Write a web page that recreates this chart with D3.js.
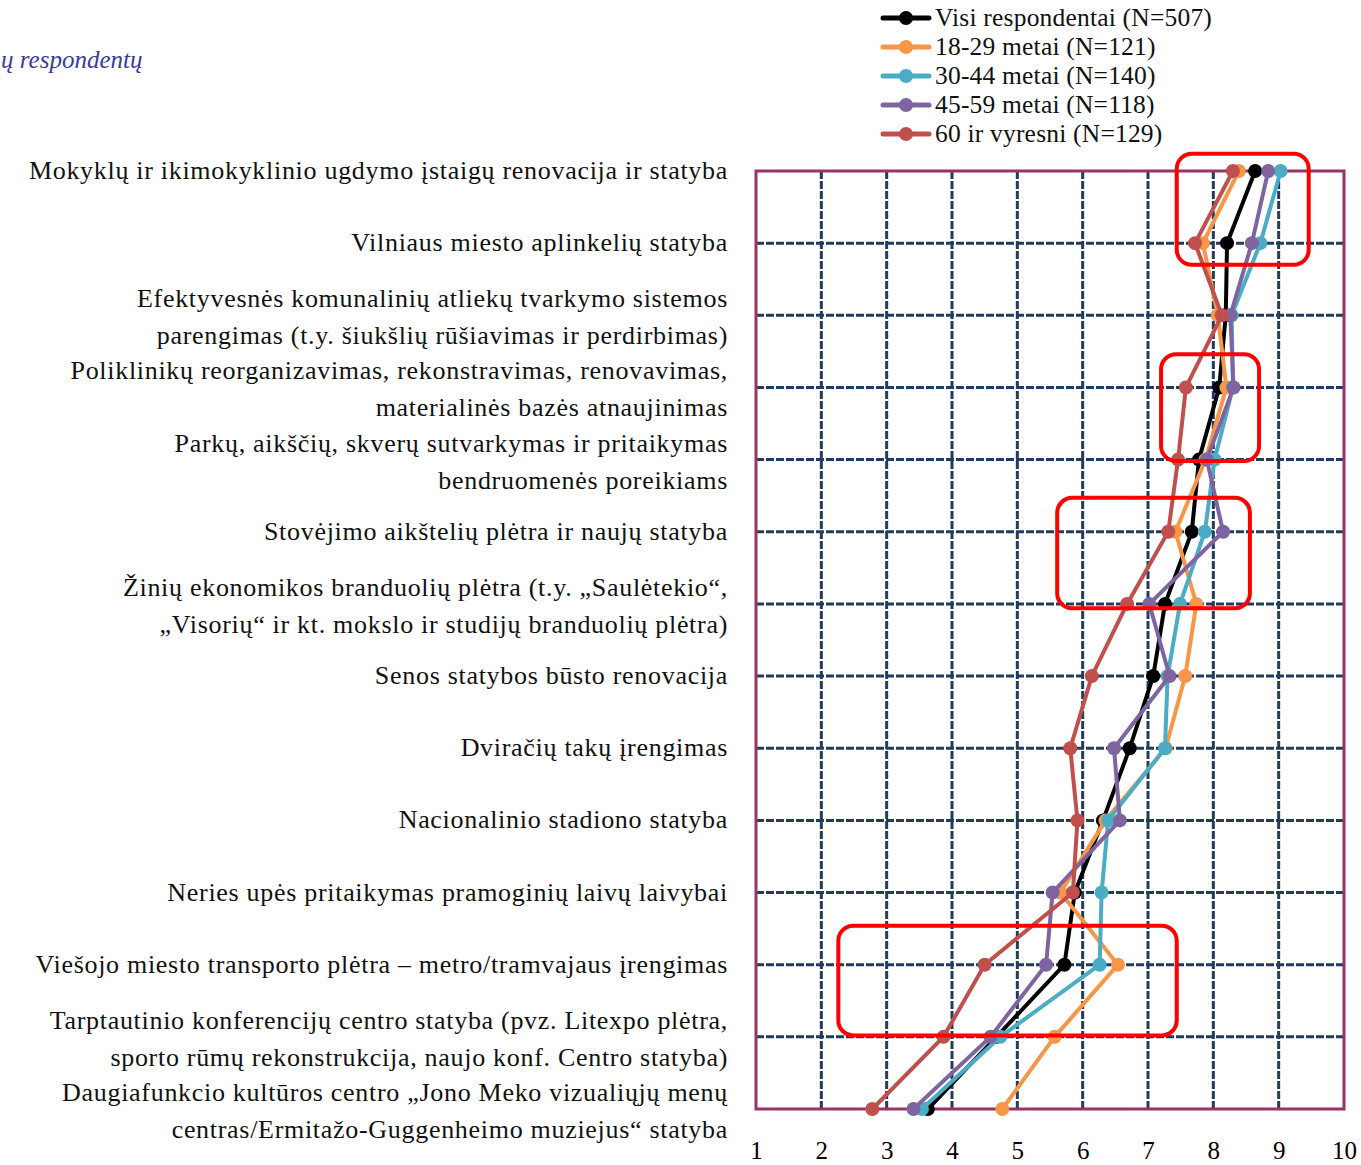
<!DOCTYPE html>
<html>
<head>
<meta charset="utf-8">
<script src="https://cdn.jsdelivr.net/npm/d3@7"></script>
<style>
  html, body { margin: 0; padding: 0; background: #fff; }
  svg { display: block; }
  text { font-family: "Liberation Serif", "DejaVu Serif", serif; }
</style>
</head>
<body>
<script>
// ---------- DATA ----------
const categories = [
  ["Mokyklų ir ikimokyklinio ugdymo įstaigų renovacija ir statyba"],
  ["Vilniaus miesto aplinkelių statyba"],
  ["Efektyvesnės komunalinių atliekų tvarkymo sistemos", "parengimas (t.y. šiukšlių rūšiavimas ir perdirbimas)"],
  ["Poliklinikų reorganizavimas, rekonstravimas, renovavimas,", "materialinės bazės atnaujinimas"],
  ["Parkų, aikščių, skverų sutvarkymas ir pritaikymas", "bendruomenės poreikiams"],
  ["Stovėjimo aikštelių plėtra ir naujų statyba"],
  ["Žinių ekonomikos branduolių plėtra (t.y. „Saulėtekio“,", "„Visorių“ ir kt. mokslo ir studijų branduolių plėtra)"],
  ["Senos statybos būsto renovacija"],
  ["Dviračių takų įrengimas"],
  ["Nacionalinio stadiono statyba"],
  ["Neries upės pritaikymas pramoginių laivų laivybai"],
  ["Viešojo miesto transporto plėtra – metro/tramvajaus įrengimas"],
  ["Tarptautinio konferencijų centro statyba (pvz. Litexpo plėtra,", "sporto rūmų rekonstrukcija, naujo konf. Centro statyba)"],
  ["Daugiafunkcio kultūros centro „Jono Meko vizualiųjų menų", "centras/Ermitažo-Guggenheimo muziejus“ statyba"]
];

const seriesNames = [
  "Visi respondentai (N=507)",
  "18-29 metai (N=121)",
  "30-44 metai (N=140)",
  "45-59 metai (N=118)",
  "60 ir vyresni (N=129)"
];
const seriesColors = ["#000000", "#F79646", "#4BACC6", "#8064A2", "#C0504D"];

const visi    = [8.64, 8.21, 8.19, 8.09, 7.78, 7.67, 7.26, 7.08, 6.72, 6.31, 5.88, 5.72, 4.68, 3.63];
const age1829 = [8.39, 7.84, 8.07, 8.20, 7.88, 7.42, 7.74, 7.57, 7.27, 6.35, 5.66, 6.54, 5.57, 4.77];
const age3044 = [9.03, 8.72, 8.28, 8.30, 8.02, 7.87, 7.49, 7.30, 7.26, 6.39, 6.29, 6.26, 4.74, 3.54];
const age4559 = [8.84, 8.59, 8.26, 8.31, 7.90, 8.15, 7.02, 7.33, 6.48, 6.57, 5.54, 5.44, 4.59, 3.41];
const age60   = [8.30, 7.72, 8.13, 7.58, 7.46, 7.31, 6.68, 6.14, 5.81, 5.92, 5.85, 4.50, 3.87, 2.78];
const seriesValues = [visi, age1829, age3044, age4559, age60];

const xTicks = [1, 2, 3, 4, 5, 6, 7, 8, 9, 10];

// highlight boxes: [xMin, xMax, rowFrom, rowTo] in data units
const highlights = [
  [7.44, 9.46, -0.24, 1.30],
  [7.20, 8.70, 2.54, 4.02],
  [5.61, 8.56, 4.53, 6.06],
  [2.26, 7.44, 10.46, 11.98]
];

// ---------- CHART ----------
const W = 1361, H = 1165;
const plot = { left: 756, right: 1344, top: 171, bottom: 1109 };

const svg = d3.select("body").append("svg").attr("width", W).attr("height", H);

const x = d3.scaleLinear().domain([1, 10]).range([plot.left, plot.right]);
const y = d3.scaleLinear().domain([0, categories.length - 1]).range([plot.top, plot.bottom]);

// partial title
svg.append("text")
  .attr("x", 1).attr("y", 68)
  .attr("text-anchor", "start")
  .attr("fill", "#3B3B9E")
  .attr("font-style", "italic")
  .attr("font-size", 25)
  .text("ų respondentų");

// grid
const grid = svg.append("g");
grid.selectAll("line.v").data(xTicks.slice(1, -1)).enter().append("line")
  .attr("x1", d => x(d)).attr("x2", d => x(d))
  .attr("y1", plot.top).attr("y2", plot.bottom)
  .attr("stroke", "#233C5E").attr("stroke-width", 3)
  .attr("stroke-dasharray", "8,2");
grid.selectAll("line.h").data(d3.range(1, categories.length - 1)).enter().append("line")
  .attr("x1", plot.left).attr("x2", plot.right)
  .attr("y1", d => y(d)).attr("y2", d => y(d))
  .attr("stroke", "#233C5E").attr("stroke-width", 3)
  .attr("stroke-dasharray", "8,2");

// border
svg.append("rect")
  .attr("x", plot.left).attr("y", plot.top)
  .attr("width", plot.right - plot.left).attr("height", plot.bottom - plot.top)
  .attr("fill", "none").attr("stroke", "#993366").attr("stroke-width", 3);

// x axis labels
const xAxis = d3.axisBottom(x).tickValues(xTicks).tickSize(0).tickPadding(0).tickFormat(d3.format("d"));
const xg = svg.append("g").attr("transform", `translate(0, ${plot.bottom + 45})`).call(xAxis);
xg.select(".domain").remove();
xg.selectAll("text")
  .attr("font-family", "'Liberation Serif', serif")
  .attr("font-size", 25).attr("fill", "#000").attr("dy", "0.2em");

// category labels
const lab = svg.append("g");
categories.forEach((lines, i) => {
  const t = lab.append("text")
    .attr("x", 728)
    .attr("text-anchor", "end")
    .attr("font-size", 26)
    .attr("letter-spacing", 0.7)
    .attr("fill", "#111");
  if (lines.length === 1) {
    t.append("tspan").attr("x", 728).attr("y", y(i) + 8).text(lines[0]);
  } else {
    t.append("tspan").attr("x", 728).attr("y", y(i) - 8).text(lines[0]);
    t.append("tspan").attr("x", 728).attr("y", y(i) + 29).text(lines[1]);
  }
});

// series
const line = d3.line().x(d => x(d[0])).y(d => y(d[1]));
seriesValues.forEach((vals, s) => {
  const pts = vals.map((v, i) => [v, i]);
  const g = svg.append("g");
  g.append("path").datum(pts)
    .attr("d", line)
    .attr("fill", "none")
    .attr("stroke", seriesColors[s])
    .attr("stroke-width", 4)
    .attr("stroke-linejoin", "round");
  g.selectAll("circle").data(pts).enter().append("circle")
    .attr("cx", d => x(d[0])).attr("cy", d => y(d[1]))
    .attr("r", 7)
    .attr("fill", seriesColors[s]);
});

// highlight rounded rectangles
svg.append("g").selectAll("rect").data(highlights).enter().append("rect")
  .attr("x", d => x(d[0])).attr("y", d => y(d[2]))
  .attr("width", d => x(d[1]) - x(d[0]))
  .attr("height", d => y(d[3]) - y(d[2]))
  .attr("rx", 15).attr("ry", 15)
  .attr("fill", "none").attr("stroke", "#FF0000").attr("stroke-width", 4);

// legend
const leg = svg.append("g");
seriesNames.forEach((name, s) => {
  const ly = 18 + s * 29;
  leg.append("line")
    .attr("x1", 883).attr("x2", 929).attr("y1", ly).attr("y2", ly)
    .attr("stroke", seriesColors[s]).attr("stroke-width", 5).attr("stroke-linecap", "round");
  leg.append("circle").attr("cx", 906).attr("cy", ly).attr("r", 7).attr("fill", seriesColors[s]);
  leg.append("text")
    .attr("x", 935).attr("y", ly + 8)
    .attr("font-size", 25.5)
    .attr("letter-spacing", 0.2)
    .attr("fill", "#111")
    .text(name);
});
</script>
</body>
</html>
